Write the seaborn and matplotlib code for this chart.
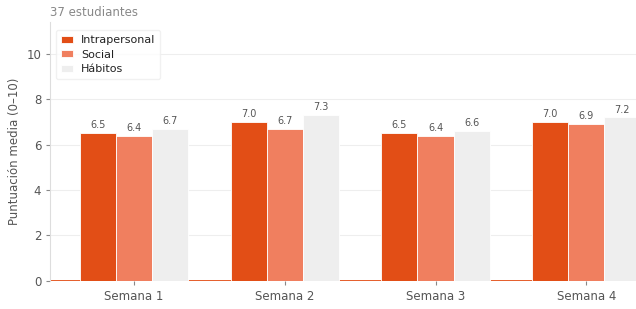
import matplotlib
matplotlib.use("Agg")
import matplotlib.pyplot as plt
import pandas as pd
import seaborn as sns

weeks = ["Semana 1", "Semana 2", "Semana 3", "Semana 4"]
series = ["Intrapersonal", "Social", "Hábitos"]
intrapersonal = [6.5, 7.0, 6.5, 7.0]
social = [6.4, 6.7, 6.4, 6.9]
habitos = [6.7, 7.3, 6.6, 7.2]
colors = ["#E24E16", "#F07F5F", "#EEEEEE"]

rows = []
for name, vals in zip(series, [intrapersonal, social, habitos]):
    for w, v in zip(weeks, vals):
        rows.append({"Semana": w, "Serie": name, "Valor": v})
df = pd.DataFrame(rows)

sns.set_style("white")
plt.rcParams['font.family'] = ['DejaVu Sans']

fig = plt.figure(figsize=(6.36, 3.09), dpi=100)
ax = fig.add_axes([0.079, 0.091, 0.921, 0.838])

sns.barplot(data=df, x="Semana", y="Valor", hue="Serie", hue_order=series,
            palette=colors, saturation=1, width=0.72, edgecolor="white",
            linewidth=0.6, ax=ax, zorder=2)

for cont in ax.containers:
    ax.bar_label(cont, fmt="%.1f", padding=2, fontsize=7, color="#555555")

ax.axhline(0, color="#E24E16", lw=2, zorder=1)
ax.set_ylim(0, 11.4)
ax.set_xlim(-0.556, 3.33)
ax.set_yticks([0, 2, 4, 6, 8, 10])
ax.yaxis.grid(True, color="#EEEEEE", lw=0.8, zorder=0)
ax.set_axisbelow(True)
for s in ["top", "right", "bottom"]:
    ax.spines[s].set_visible(False)
ax.spines["left"].set_color("#DDDDDD")
ax.tick_params(axis="both", colors="#555555", labelsize=8.5, length=3, left=True, bottom=True)
ax.tick_params(axis="both", color="#888888")
ax.set_xlabel("")
ax.set_ylabel("Puntuación media (0–10)", fontsize=8.5, color="#555555")
ax.set_title("37 estudiantes", loc="left", fontsize=8.5, color="#888888", pad=4)

leg = ax.legend(loc="upper left", fontsize=8, frameon=True, title=None,
                handlelength=1.1, handleheight=0.6, labelspacing=0.4,
                handletextpad=0.7, borderpad=0.45, bbox_to_anchor=(0.0, 0.99))
leg.get_frame().set_edgecolor("#EEEEEE")
for t in leg.get_texts():
    t.set_color("#222222")

fig.savefig("out.png", dpi=100)
